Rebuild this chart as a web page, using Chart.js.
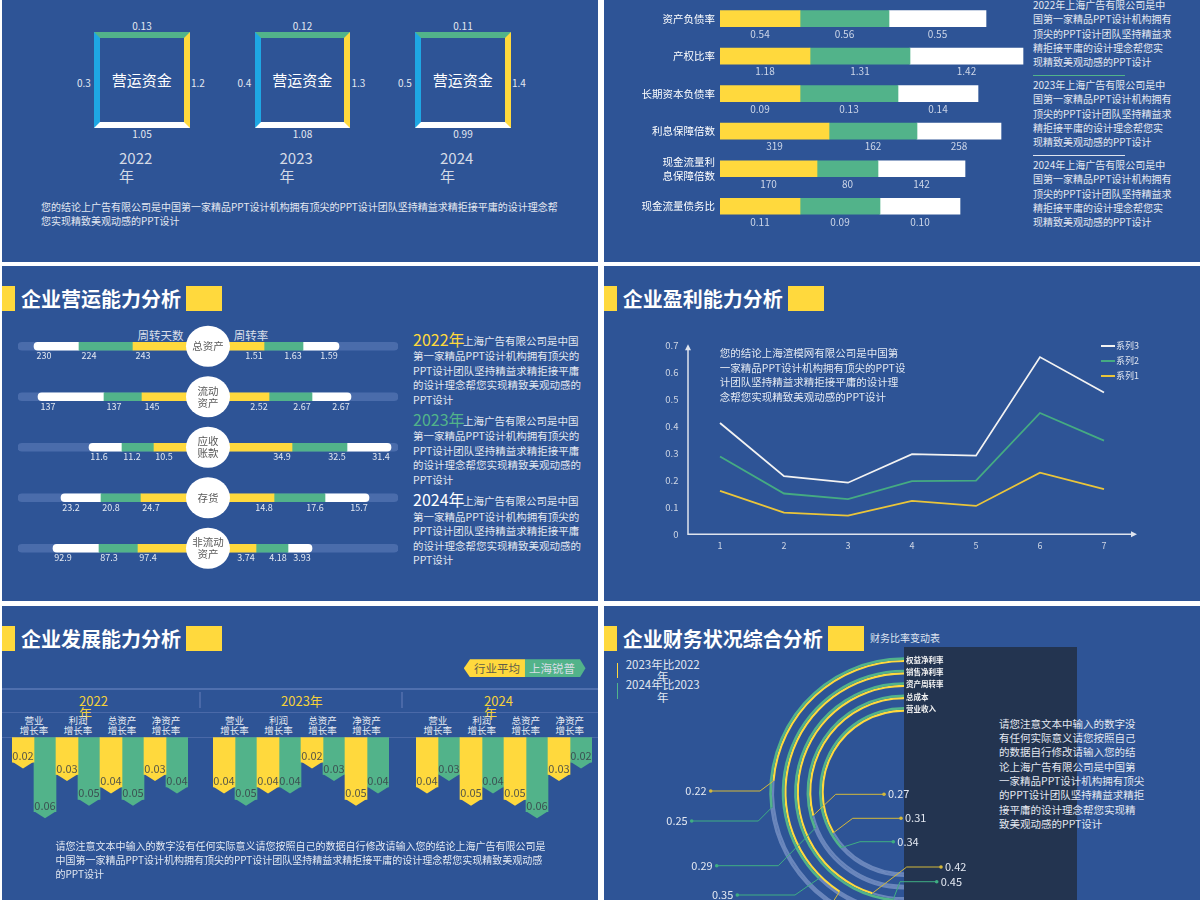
<!DOCTYPE html>
<html>
<head>
<meta charset="utf-8">
<title>企业财务分析</title>
<script src="https://cdn.jsdelivr.net/npm/chart.js@4.4.1/dist/chart.umd.min.js"></script>
<style>
  html, body { margin: 0; padding: 0; }
  body { width: 1200px; height: 900px; overflow: hidden; position: relative; background: #fff;
         font-family: "Noto Sans CJK SC", "Noto Sans", sans-serif; }
  .panel { position: absolute; background: #2e5496; }
  canvas { position: absolute; }
  .t { position: absolute; white-space: nowrap; }
  .b { position: absolute; }
</style>
</head>
<body>
<div class="panel" style="left:2px;top:0;width:596px;height:262px"></div>
<div class="panel" style="left:604px;top:0;width:596px;height:262px"></div>
<div class="panel" style="left:2px;top:266px;width:596px;height:335px"></div>
<div class="panel" style="left:604px;top:266px;width:596px;height:335px"></div>
<div class="panel" style="left:2px;top:606px;width:596px;height:294px"></div>
<div class="panel" style="left:604px;top:606px;width:596px;height:294px"></div>

<script>
"use strict";

// ---- data ----
// working capital frames
var wcYears = ['2022', '2023', '2024'];
var wcTop = ['0.13', '0.12', '0.11'];
var wcLeft = ['0.3', '0.4', '0.5'];
var wcRight = ['1.2', '1.3', '1.4'];
var wcBottom = ['1.05', '1.08', '0.99'];

// solvency ratios (bar lengths, printed values as labels)
var ratioNames = ['资产负债率', '产权比率', '长期资本负债率', '利息保障倍数', ['现金流量利', '息保障倍数'], '现金流量债务比'];
var ratioBar2022 = [80, 90, 80, 109, 97, 80];
var ratioBar2023 = [89, 100, 98, 88, 61, 80];
var ratioBar2024 = [97, 113, 80, 84, 87, 80];
var ratio2022 = ['0.54', '1.18', '0.09', '319', '170', '0.11'];
var ratio2023 = ['0.56', '1.31', '0.13', '162', '80', '0.09'];
var ratio2024 = ['0.55', '1.42', '0.14', '258', '142', '0.10'];

// operating ability: turnover days (left) and turnover rate (right)
var assetNames = ['总资产', ['流动', '资产'], ['应收', '账款'], '存货', ['非流动', '资产']];
var daysBar2022 = [75, 66, 54, 67, 70];
var daysBar2023 = [54, 38, 32, 40, 39];
var daysBar2024 = [45, 66, 33, 40, 46];
var rateBar2022 = [56, 61, 84, 66, 48];
var rateBar2023 = [39, 43, 55, 51, 32];
var rateBar2024 = [36, 39, 44, 44, 24];
var days2022 = ['243', '145', '10.5', '24.7', '97.4'];
var days2023 = ['224', '137', '11.2', '20.8', '87.3'];
var days2024 = ['230', '137', '11.6', '23.2', '92.9'];
var rate2022 = ['1.51', '2.52', '34.9', '14.8', '3.74'];
var rate2023 = ['1.63', '2.67', '32.5', '17.6', '4.18'];
var rate2024 = ['1.59', '2.67', '31.4', '15.7', '3.93'];

// profitability lines
var profitX = ['1', '2', '3', '4', '5', '6', '7'];
var series1 = [0.161, 0.080, 0.069, 0.124, 0.105, 0.228, 0.167];
var series2 = [0.288, 0.151, 0.130, 0.197, 0.199, 0.449, 0.347];
var series3 = [0.412, 0.215, 0.191, 0.297, 0.291, 0.656, 0.525];

// growth ability
var growthYears = ['2022<br>年', '2023年', '2024<br>年'];
var growthCats = ['营业<br>增长率', '利润<br>增长率', '总资产<br>增长率', '净资产<br>增长率'];
var growthSeries = ['行业平均', '上海锐普'];
var industry2022 = [0.02, 0.03, 0.04, 0.03];
var industry2023 = [0.04, 0.04, 0.02, 0.05];
var industry2024 = [0.04, 0.05, 0.05, 0.03];
var company2022 = [0.06, 0.05, 0.05, 0.04];
var company2023 = [0.05, 0.04, 0.03, 0.04];
var company2024 = [0.03, 0.04, 0.06, 0.02];

// ratio change rings
var ringNames = ['权益净利率', '销售净利率', '资产周转率', '总成本', '营业收入'];
var ringSeries = ['2023年比2022年', '2024年比2023年'];
var change2023 = [0.22, 0.38, 0.42, 0.27, 0.31];
var change2024 = [0.25, 0.35, 0.45, 0.29, 0.34];
var ringHalf = 0.465;   // value reached at the bottom of the half ring

// ---- style ----
var FONT = '"Noto Sans CJK SC", "Noto Sans", sans-serif';
var YEL = '#ffd93d', GRN = '#52b38a', WHT = '#ffffff', CYAN = '#1ea7e4';
var TXT = '#e3e8f1', TRACK = 'rgba(190,205,240,0.42)';
Chart.defaults.font.family = FONT;
Chart.defaults.color = TXT;
Chart.defaults.animation = false;
Chart.defaults.plugins.legend.display = false;
Chart.defaults.plugins.tooltip.enabled = false;

function put(html, x, y, size, color, o) {
    o = o || {};
    var lh = o.lh || Math.round(size * 1.35);
    var d = document.createElement('div');
    d.className = 't';
    d.style.fontSize = size + 'px';
    d.style.lineHeight = lh + 'px';
    d.style.color = color;
    if (o.bold) d.style.fontWeight = 'bold';
    if (o.align) d.style.textAlign = o.align;
    d.innerHTML = html;
    document.body.appendChild(d);
    var w = d.offsetWidth;
    var left = o.align === 'center' ? x - w / 2 : (o.align === 'right' ? x - w : x);
    d.style.left = left + 'px';
    d.style.top = (y - lh / 2) + 'px';
    return d;
}

function box(x, y, w, h, bg) {
    var d = document.createElement('div');
    d.className = 'b';
    d.style.left = x + 'px'; d.style.top = y + 'px';
    d.style.width = w + 'px'; d.style.height = h + 'px';
    d.style.background = bg;
    document.body.appendChild(d);
    return d;
}

function canvasAt(x, y, w, h) {
    var c = document.createElement('canvas');
    c.width = w; c.height = h;
    c.style.left = x + 'px'; c.style.top = y + 'px';
    c.style.width = w + 'px'; c.style.height = h + 'px';
    document.body.appendChild(c);
    return c;
}

function title(x, y, text) {
    box(x, y - 12.7, 13.3, 25.3, YEL);
    var t = put(text, x + 19, y, 20, '#fff', {bold: true});
    box(x + 19 + t.offsetWidth + 5, y - 12.7, 36.4, 25.3, YEL);
}

// ================= panel 1: working capital =================
wcYears.forEach(function(yr, i) {
    var fx = 94 + i * 160.5, fy = 32, fw = 95.5, cx = fx + fw / 2;
    var f = box(fx, fy, fw, 96, 'transparent');
    f.style.boxSizing = 'border-box';
    f.style.borderStyle = 'solid';
    f.style.borderWidth = '6px';
    f.style.borderColor = GRN + ' ' + YEL + ' ' + WHT + ' ' + CYAN;
    put('营运资金', cx, 80, 15, '#fff', {align: 'center'});
    put(wcTop[i], cx, 25.7, 10, TXT, {align: 'center'});
    put(wcLeft[i], fx - 3, 83, 10, TXT, {align: 'right'});
    put(wcRight[i], fx + fw + 1.5, 83, 10, TXT);
    put(wcBottom[i], cx, 134, 10, TXT, {align: 'center'});
    put(yr + '<br>年', fx + 25, 158, 15, '#d5dbe6', {lh: 18});
});
put('您的结论上广告有限公司是中国第一家精品PPT设计机构拥有顶尖的PPT设计团队坚持精益求精拒接平庸的设计理念帮<br>您实现精致美观动感的PPT设计',
    41, 207, 10, TXT, {lh: 14});

// ================= panel 2: solvency bars =================
var segLabels = {
    id: 'segLabels',
    afterDatasetsDraw: function(chart) {
        var ctx = chart.ctx;
        ctx.save();
        ctx.font = '10px ' + FONT;
        ctx.fillStyle = '#cdd6e8';
        ctx.textAlign = 'center';
        ctx.textBaseline = 'middle';
        chart.data.datasets.forEach(function(ds, di) {
            chart.getDatasetMeta(di).data.forEach(function(el, i) {
                ctx.fillText(ds.lbl[i], (el.x + el.base) / 2, el.y + 15.5);
            });
        });
        ctx.restore();
    }
};

new Chart(canvasAt(604, -12, 426, 257), {
    type: 'bar',
    data: {
        labels: ratioNames,
        datasets: [
            {data: ratioBar2022, backgroundColor: YEL, lbl: ratio2022},
            {data: ratioBar2023, backgroundColor: GRN, lbl: ratio2023},
            {data: ratioBar2024, backgroundColor: WHT, lbl: ratio2024}
        ]
    },
    options: {
        indexAxis: 'y',
        responsive: false,
        layout: {padding: {top: 0, right: 5, bottom: 20, left: 0}},
        datasets: {bar: {barThickness: 16}},
        scales: {
            x: {stacked: true, min: 0, max: 305, display: false},
            y: {
                stacked: true,
                grid: {display: false, drawTicks: false},
                border: {display: false},
                ticks: {color: '#fff', font: {size: 10.5, lineHeight: 1.3}, padding: 5},
                afterFit: function(s) { s.width = 116; }
            }
        }
    },
    plugins: [segLabels]
});

var ratioText = [
    '2022年上海广告有限公司是中<br>国第一家精品PPT设计机构拥有<br>顶尖的PPT设计团队坚持精益求<br>精拒接平庸的设计理念帮您实<br>现精致美观动感的PPT设计',
    '2023年上海广告有限公司是中<br>国第一家精品PPT设计机构拥有<br>顶尖的PPT设计团队坚持精益求<br>精拒接平庸的设计理念帮您实<br>现精致美观动感的PPT设计',
    '2024年上海广告有限公司是中<br>国第一家精品PPT设计机构拥有<br>顶尖的PPT设计团队坚持精益求<br>精拒接平庸的设计理念帮您实<br>现精致美观动感的PPT设计'
];
put(ratioText[0], 1033, 5.3, 10, TXT, {lh: 14.3});
box(1033, 75.2, 92, 1, GRN);
put(ratioText[1], 1033, 85.3, 10, TXT, {lh: 14.3});
box(1033, 155.2, 92, 1, '#dfe4ee');
put(ratioText[2], 1033, 165.2, 10, TXT, {lh: 14.3});

// ================= panel 3: operating ability =================
title(2, 298.3, '企业营运能力分析');
put('周转天数', 160.5, 335, 11.5, '#d9dfe9', {align: 'center'});
put('周转率', 251.3, 335, 11.5, '#d9dfe9', {align: 'center'});

function neg(a) { return a.map(function(v) { return -v; }); }

var hubPlugin = {
    id: 'hub',
    afterDatasetsDraw: function(chart) {
        var ctx = chart.ctx, xs = chart.scales.x, ys = chart.scales.y;
        var cx = xs.getPixelForValue(0);
        ctx.save();
        ctx.font = '9px ' + FONT;
        ctx.fillStyle = '#e3e8f1';
        ctx.textAlign = 'center';
        ctx.textBaseline = 'middle';
        chart.data.datasets.forEach(function(ds, di) {
            if (!ds.lbl) return;
            chart.getDatasetMeta(di).data.forEach(function(el, i) {
                var lx = el.x < cx ? el.x + 10 : el.x - 10;
                ctx.fillText(ds.lbl[i], lx, el.y + 9.5);
            });
        });
        assetNames.forEach(function(name, i) {
            var y = ys.getPixelForValue(i);
            ctx.beginPath();
            ctx.ellipse(cx, y, 22, 20.5, 0, 0, Math.PI * 2);
            ctx.fillStyle = '#fff';
            ctx.fill();
            var lines = [].concat(name);
            ctx.fillStyle = '#595959';
            ctx.font = '10.5px ' + FONT;
            lines.forEach(function(t, k) {
                ctx.fillText(t, cx, y + (k - (lines.length - 1) / 2) * 12);
            });
        });
        ctx.restore();
    }
};

new Chart(canvasAt(8, 311, 400, 273), {
    type: 'bar',
    data: {
        labels: assetNames,
        datasets: [
            {data: neg(daysBar2022), backgroundColor: YEL, lbl: days2022, stack: 's'},
            {data: neg(daysBar2023), backgroundColor: GRN, lbl: days2023, stack: 's'},
            {data: neg(daysBar2024), backgroundColor: WHT, lbl: days2024, stack: 's', borderRadius: 4},
            {data: rateBar2022, backgroundColor: YEL, lbl: rate2022, stack: 's'},
            {data: rateBar2023, backgroundColor: GRN, lbl: rate2023, stack: 's'},
            {data: rateBar2024, backgroundColor: WHT, lbl: rate2024, stack: 's', borderRadius: 4},
            {data: assetNames.map(function() { return [-190, 190]; }), backgroundColor: '#4a6cab',
             stack: 't', borderRadius: 4, borderSkipped: false}
        ]
    },
    options: {
        indexAxis: 'y',
        responsive: false,
        layout: {padding: {left: 10, right: 10, top: 10, bottom: 10.5}},
        datasets: {bar: {barThickness: 8, grouped: false}},
        scales: {
            x: {stacked: true, min: -190, max: 190, display: false},
            y: {stacked: true, display: false}
        }
    },
    plugins: [hubPlugin]
});

var opText = '上海广告有限公司是中国';
var opRest = '第一家精品PPT设计机构拥有顶尖的<br>PPT设计团队坚持精益求精拒接平庸<br>的设计理念帮您实现精致美观动感的<br>PPT设计';
[[339, YEL, '2022年'], [419, GRN, '2023年'], [499.3, '#fff', '2024年']].forEach(function(p) {
    put(p[2], 413, p[0], 16, p[1]);
    put(opText, 463, p[0] + 2, 10.5, TXT);
    put(opRest, 413, p[0] + 17.5, 10.5, TXT, {lh: 14.5});
});

// ================= panel 4: profitability =================
title(603.8, 298.3, '企业盈利能力分析');

var axisArrows = {
    id: 'axisArrows',
    afterDraw: function(chart) {
        var a = chart.chartArea, ctx = chart.ctx;
        ctx.save();
        ctx.strokeStyle = ctx.fillStyle = '#dfe4ee';
        ctx.lineWidth = 1.5;
        ctx.beginPath();
        ctx.moveTo(a.left, a.top + 3);
        ctx.lineTo(a.left, a.bottom);
        ctx.lineTo(a.right - 3, a.bottom);
        ctx.stroke();
        ctx.beginPath();
        ctx.moveTo(a.left, a.top - 1); ctx.lineTo(a.left - 3, a.top + 5); ctx.lineTo(a.left + 3, a.top + 5);
        ctx.fill();
        ctx.beginPath();
        ctx.moveTo(a.right + 1, a.bottom); ctx.lineTo(a.right - 5, a.bottom - 3); ctx.lineTo(a.right - 5, a.bottom + 3);
        ctx.fill();
        ctx.restore();
    }
};

var profitSeries = [
    {label: '系列3', data: series3, color: '#f2f2f2'},
    {label: '系列2', data: series2, color: '#45ab82'},
    {label: '系列1', data: series1, color: '#eac53a'}
];

new Chart(canvasAt(640, 330, 516, 230), {
    type: 'line',
    data: {
        labels: profitX,
        datasets: profitSeries.map(function(s) {
            return {label: s.label, data: s.data, borderColor: s.color, borderWidth: 1.8};
        })
    },
    options: {
        responsive: false,
        layout: {padding: {top: 14.3, right: 20, bottom: 5.7, left: 0}},
        elements: {point: {radius: 0}, line: {tension: 0}},
        scales: {
            x: {
                offset: true,
                grid: {display: false, drawTicks: false},
                border: {display: false},
                ticks: {color: '#cfd6e4', font: {size: 9}, padding: 6, maxRotation: 0},
                afterFit: function(s) { s.height = 20; }
            },
            y: {
                min: 0, max: 0.7,
                grid: {display: false, drawTicks: false},
                border: {display: false},
                ticks: {stepSize: 0.1, color: '#cfd6e4', font: {size: 9.5}, padding: 9.5},
                afterFit: function(s) { s.width = 48; }
            }
        }
    },
    plugins: [axisArrows]
});

profitSeries.forEach(function(s, i) {
    var y = 346 + i * 15;
    box(1101, y - 0.75, 13.7, 1.5, s.color);
    put(s.label, 1116, y, 9, '#dfe4ee');
});
put('您的结论上海渲模网有限公司是中国第<br>一家精品PPT设计机构拥有顶尖的PPT设<br>计团队坚持精益求精拒接平庸的设计理<br>念帮您实现精致美观动感的PPT设计',
    719.8, 353.3, 10.5, TXT, {lh: 14.5});

// ================= panel 5: growth ability =================
title(2, 638.3, '企业发展能力分析');

var lg1 = box(463.8, 659.3, 61.2, 18, YEL);
lg1.style.clipPath = 'polygon(0 50%, 6.2px 0, 100% 0, 100% 100%, 6.2px 100%)';
var lg2 = box(525, 659.3, 60.5, 18, GRN);
lg2.style.clipPath = 'polygon(0 0, 55px 0, 100% 50%, 55px 100%, 0 100%)';
put(growthSeries[0], 497, 668.3, 11.5, '#5f5d48', {align: 'center'});
put(growthSeries[1], 552, 668.3, 11.5, '#d8dde6', {align: 'center'});

box(2, 687.5, 596, 2, '#4f6fae');
box(2, 712, 596, 1, '#4a69a8');
box(2, 736.8, 596, 1, '#4a69a8');
box(199, 692, 2, 16, '#4a69a8');
box(401, 692, 2, 16, '#4a69a8');

var arrowTips = {
    id: 'arrowTips',
    afterDatasetsDraw: function(chart) {
        var ctx = chart.ctx;
        ctx.save();
        chart.data.datasets.forEach(function(ds, di) {
            chart.getDatasetMeta(di).data.forEach(function(el, i) {
                var h = el.width / 2;
                ctx.fillStyle = ds.backgroundColor;
                ctx.beginPath();
                ctx.moveTo(el.x - h, el.y - 0.5);
                ctx.lineTo(el.x + h, el.y - 0.5);
                ctx.lineTo(el.x, el.y + 6.5);
                ctx.closePath();
                ctx.fill();
                ctx.fillStyle = 'rgba(55,62,72,0.85)';
                ctx.font = '11px ' + FONT;
                ctx.textAlign = 'center';
                ctx.textBaseline = 'middle';
                ctx.fillText(ds.data[i].toFixed(2), el.x, el.y - 6);
            });
        });
        ctx.restore();
    }
};

var growthX = [12.3, 212.7, 416];
var yearLabelX = [79, 281, 484];
var industry = [industry2022, industry2023, industry2024];
var company = [company2022, company2023, company2024];
growthYears.forEach(function(yr, g) {
    var gx = growthX[g];
    put(yr, yearLabelX[g], 701.3, 13, '#f5d13a', {lh: 12});
    growthCats.forEach(function(c, k) {
        put(c, gx + 22 * (2 * k + 1), 720, 9.5, '#e6ebf3', {align: 'center', lh: 10.5});
    });
    new Chart(canvasAt(gx - 4, 733, 184, 140), {
        type: 'bar',
        data: {
            labels: growthCats,
            datasets: [
                {label: growthSeries[0], data: industry[g], backgroundColor: YEL},
                {label: growthSeries[1], data: company[g], backgroundColor: GRN}
            ]
        },
        options: {
            responsive: false,
            layout: {padding: {left: 4, right: 4, top: 4.3, bottom: 11.7}},
            datasets: {bar: {categoryPercentage: 1, barPercentage: 1}},
            scales: {
                x: {display: false},
                y: {display: false, min: 0, max: 0.1, reverse: true}
            }
        },
        plugins: [arrowTips]
    });
});
put('请您注意文本中输入的数字没有任何实际意义请您按照自己的数据自行修改请输入您的结论上海广告有限公司是<br>中国第一家精品PPT设计机构拥有顶尖的PPT设计团队坚持精益求精拒接平庸的设计理念帮您实现精致美观动感<br>的PPT设计',
    55.5, 845.7, 10, TXT, {lh: 14});

// ================= panel 6: ratio change rings =================
title(603.8, 638.3, '企业财务状况综合分析');
put('财务比率变动表', 870, 638.3, 10, '#dfe5f0');
box(904.2, 646.7, 173.3, 253.3, '#233450');
box(616.5, 663, 1.5, 15, YEL);
put(ringSeries[0].replace('2022年', '2022<br>年'), 662.7, 664, 11.5, TXT, {align: 'center', lh: 12.5});
box(616.5, 683, 1.5, 16, GRN);
put(ringSeries[1].replace('2023年', '2023<br>年'), 662.7, 684.3, 11.5, TXT, {align: 'center', lh: 12.5});
put('请您注意文本中输入的数字没<br>有任何实际意义请您按照自己<br>的数据自行修改请输入您的结<br>论上海广告有限公司是中国第<br>一家精品PPT设计机构拥有顶尖<br>的PPT设计团队坚持精益求精拒<br>接平庸的设计理念帮您实现精<br>致美观动感的PPT设计',
    999, 724, 10.5, TXT, {lh: 14.3});

// leader placement: [side, dot x, y, elbow x] in page pixels
var leaderYellow = [['L', 710.7, 791, 760], ['L', 760, 930, 815], ['R', 941, 867, 906.7],
                    ['R', 884, 794.3, 835.7], ['R', 901, 818.3, 852.7]];
var leaderGreen = [['L', 691.7, 821, 758.3], ['L', 737.3, 895, 795], ['R', 936.7, 881.7, 900],
                   ['L', 716.7, 865.7, 778.3], ['R', 893.3, 841.7, 860]];
var RING_X = 640, RING_Y = 640;

var ringDatasets = [];
ringNames.forEach(function(name, i) {
    ringDatasets.push({data: [ringHalf, ringHalf - change2024[i], change2024[i]],
        backgroundColor: ['rgba(0,0,0,0)', TRACK, GRN], weight: 2.6,
        val: change2024[i], lay: leaderGreen[i], col: '#3fae83'});
    ringDatasets.push({data: [ringHalf, ringHalf - change2023[i], change2023[i]],
        backgroundColor: ['rgba(0,0,0,0)', TRACK, YEL], weight: 2.2,
        val: change2023[i], lay: leaderYellow[i], col: '#d4b83a', ring: name});
    if (i < ringNames.length - 1) {
        ringDatasets.push({data: [1], backgroundColor: ['rgba(0,0,0,0)'], weight: 7.7});
    }
});

var leaders = {
    id: 'leaders',
    afterDatasetsDraw: function(chart) {
        var ctx = chart.ctx;
        ctx.save();
        chart.data.datasets.forEach(function(ds, di) {
            if (!ds.lay) return;
            var arc = chart.getDatasetMeta(di).data[2];
            var r = (arc.innerRadius + arc.outerRadius) / 2;
            var px = arc.x + r * Math.cos(arc.startAngle), py = arc.y + r * Math.sin(arc.startAngle);
            var L = ds.lay, dx = L[1] - RING_X, y = L[2] - RING_Y, ex = L[3] - RING_X;
            ctx.strokeStyle = ds.col;
            ctx.lineWidth = 1;
            ctx.beginPath();
            ctx.moveTo(px, py); ctx.lineTo(ex, y); ctx.lineTo(dx, y);
            ctx.stroke();
            ctx.fillStyle = ds.col;
            ctx.beginPath();
            ctx.arc(dx, y, 1.8, 0, Math.PI * 2);
            ctx.fill();
            ctx.fillStyle = TXT;
            ctx.font = '11px ' + FONT;
            ctx.textBaseline = 'middle';
            ctx.textAlign = L[0] === 'L' ? 'right' : 'left';
            ctx.fillText(ds.val.toFixed(2), L[0] === 'L' ? dx - 4 : dx + 4, y);
            if (ds.ring) {
                var gOuter = chart.getDatasetMeta(di - 1).data[2].outerRadius;
                ctx.fillStyle = '#f4f4f4';
                ctx.font = 'bold 7.5px ' + FONT;
                ctx.textAlign = 'left';
                ctx.fillText(ds.ring, 906 - RING_X, arc.y - (gOuter + arc.innerRadius) / 2);
            }
        });
        ctx.restore();
    }
};

new Chart(canvasAt(RING_X, RING_Y, 528, 304), {
    type: 'doughnut',
    data: {labels: ['', '', ''], datasets: ringDatasets},
    options: {
        responsive: false,
        cutout: '59.6%',
        layout: {padding: {left: 129.3, right: 129.3, top: 17.3, bottom: 17.3}},
        elements: {arc: {borderWidth: 0, hoverBorderWidth: 0, offset: 0, hoverOffset: 0}}
    },
    plugins: [leaders]
});
</script>
</body>
</html>
